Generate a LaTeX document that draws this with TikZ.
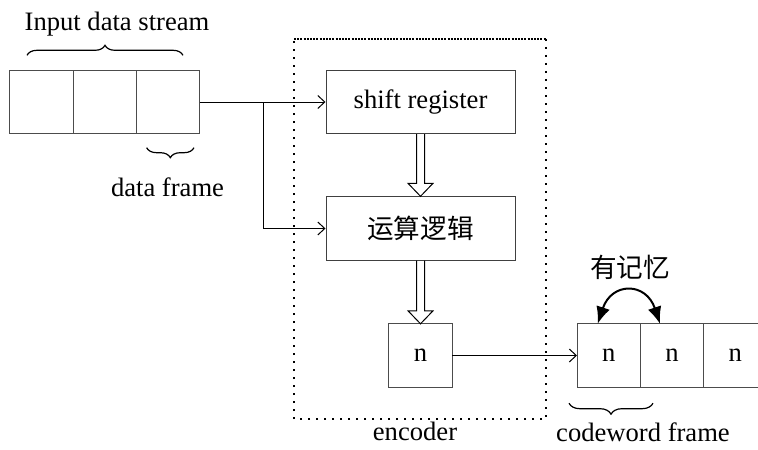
\documentclass[tikz,border=0pt]{standalone}
\usepackage{fontspec}
\setmainfont{Liberation Serif}
\newfontfamily\cjk{Noto Sans CJK SC}
\usetikzlibrary{calc, arrows.meta, decorations.pathreplacing}

\tikzset{
  cell/.style={draw=black!70, line width=0.5pt, minimum width=31.67pt, minimum height=31.7pt, inner sep=0pt, outer sep=0pt},
  blk/.style={draw=black!75, line width=0.5pt, minimum width=94.5pt, minimum height=31.7pt, inner sep=0pt},
  link/.style={line width=0.5pt, -{Straight Barb[length=3.5pt,width=6.5pt]}},
  brc/.style={decorate, decoration={brace, amplitude=5pt}, line width=0.6pt},
}

\begin{document}
\begin{tikzpicture}[x=0.5pt, y=-0.5pt, font=\fontsize{13.3}{16}\selectfont]
\useasboundingbox (0,0) rectangle (758,449);
\clip (0,0) rectangle (758,449);

% input data stream
\foreach \i in {1,2,3}
  \node[cell] (in\i) at ({10+63.33*(\i-0.5)},102) {};

% encoder
\node[blk] (shift) at (420.5,102) {shift register};
\node[blk] (logic) at (420.5,228.5) {\cjk 运算逻辑};
\node[cell] (out) at (420.5,355.5) {n};

% codeword stream
\foreach \i in {1,2,3}
  \node[cell] (cw\i) at ({577+63.33*(\i-0.5)},355.5) {n};

\coordinate (br) at ($(in3.east)+(63,0)$);
\draw[link] (in3.east) -- (shift.west);
\draw[link] (br) |- (logic.west);
\draw[link] (out.east) -- (cw1.west);

% hollow arrows
\foreach \a/\b in {shift/logic, logic/out}
  \draw[line width=0.5pt] ($(\a.south)+(-4,0)$) -- ($(\b.north)+(-4,-13)$) -- ($(\b.north)+(-12.5,-13)$)
    -- (\b.north) -- ($(\b.north)+(12.5,-13)$) -- ($(\b.north)+(4,-13)$) -- ($(\a.south)+(4,0)$);

% encoder frame
\draw[line width=1pt, dash pattern=on 1pt off 3pt] (546,39) -- (546,419) -- (294,419) -- (294,39);
\draw[line width=1pt, dash pattern=on 1pt off 0.6pt] (294,39) -- (546,39);

% memory
\coordinate (m1) at ($(cw1.north)+(-11,0)$);
\coordinate (m2) at ($(cw2.north)+(-12,0)$);
\draw[line width=1pt, {Latex[length=8.5pt,width=7pt]}-{Latex[length=8.5pt,width=7pt]}] (m1) .. controls +(14,-42) and +(-14,-42) .. (m2);
\node (mem) at (630,267) {\cjk 有记忆};

% braces
\draw[brc] ($(in1.north west)+(17,-15)$) -- ($(in3.north east)+(-17,-15)$);
\draw[brc] ($(in3.south east)+(-6,14)$) -- ($(in3.south west)+(10,14)$);
\draw[brc, decoration={amplitude=5.5pt}] ($(cw2.south)+(-19,16)$) -- ($(cw1.south west)+(-8,16)$);

\node (instream) at (117,24) {Input data stream};
\node (frame) at (167.5,187) {data frame};
\node (enc) at (415,431) {encoder};
\node (cwframe) at (643,432) {codeword frame};
\end{tikzpicture}
\end{document}
